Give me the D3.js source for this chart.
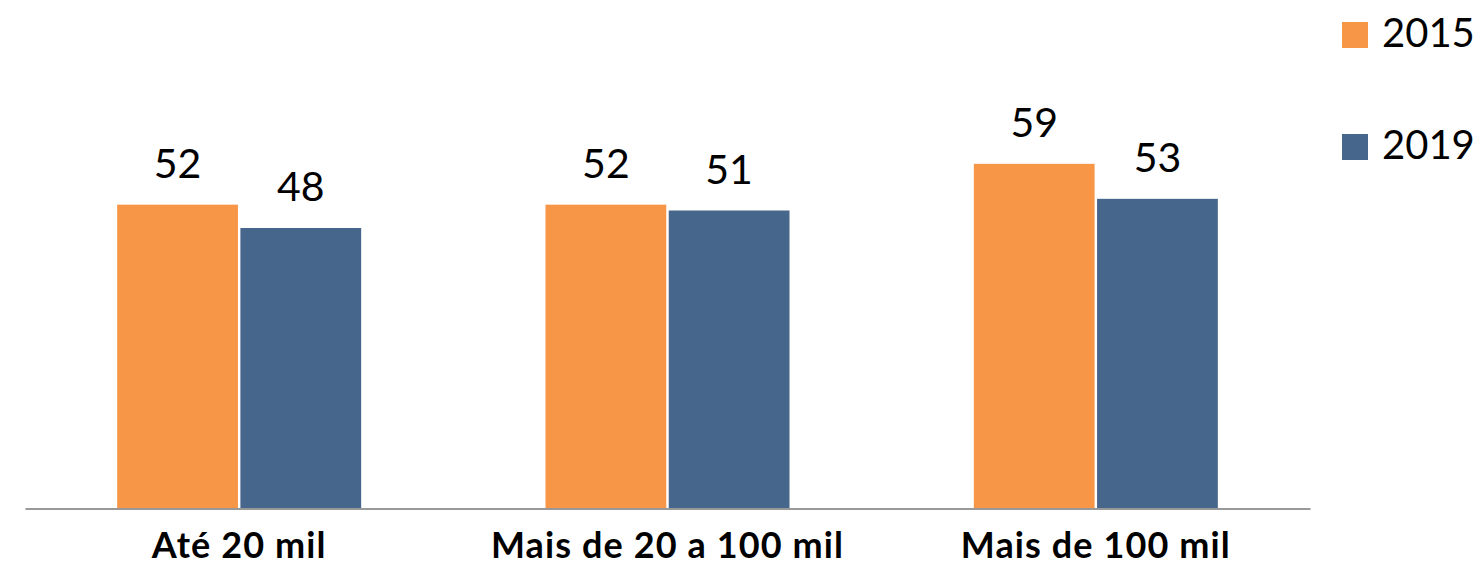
<!DOCTYPE html>
<html lang="pt">
<head>
  <meta charset="UTF-8">
  <title>2015 x 2019</title>
  <script src="https://d3js.org/d3.v7.min.js"></script>
  <style>
    body { margin: 0; background: #fff; }
    text { font-family: Lato, "Open Sans", sans-serif; fill: #000; }
    .val { font-size: 41px; text-anchor: middle; }
    .cat { font-size: 36px; font-weight: 700; text-anchor: middle; letter-spacing: 1.1px; }
    .leg { font-size: 40px; }
  </style>
</head>
<body>
<svg width="1483" height="566"></svg>
<script>
  const categories = ["Até 20 mil", "Mais de 20 a 100 mil", "Mais de 100 mil"];
  const series = ["2015", "2019"];
  const values2015 = [52, 52, 59];
  const values2019 = [48, 51, 53];
  const colors = ["#F79646", "#47668C"];

  const data = categories.map((c, i) => ({cat: c, vals: [values2015[i], values2019[i]]}));

  const svg = d3.select("svg");
  const baseY = 508;

  const x0 = d3.scaleBand().domain(categories).range([25, 1310]).padding(0);
  const bw = x0.bandwidth();
  const x1 = d3.scaleBand().domain(series)
          .range([bw / 2 - 122, bw / 2 + 122]).paddingInner(0.02);
  const y = d3.scaleLinear().domain([0, 60]).range([baseY, baseY - 350]);

  const groups = svg.selectAll(".grp")
          .data(data)
          .enter().append("g")
          .attr("class", "grp")
          .attr("transform", d => `translate(${x0(d.cat)},0)`);

  groups.selectAll("rect")
          .data(d => d.vals.map((v, i) => ({s: series[i], v: v, i: i})))
          .enter().append("rect")
          .attr("x", d => x1(d.s))
          .attr("y", d => y(d.v))
          .attr("width", x1.bandwidth())
          .attr("height", d => y(0) - y(d.v))
          .attr("fill", d => colors[d.i]);

  groups.selectAll(".val")
          .data(d => d.vals.map((v, i) => ({s: series[i], v: v})))
          .enter().append("text")
          .attr("class", "val")
          .attr("x", d => x1(d.s) + x1.bandwidth() / 2)
          .attr("y", d => y(d.v) - 27)
          .text(d => d.v);

  // axis line
  const xAxis = svg.append("g").attr("transform", `translate(0,${baseY + 0.5})`)
          .call(d3.axisBottom(x0).tickSize(0).tickFormat(""));
  xAxis.select(".domain").attr("stroke", "#999").attr("stroke-width", 2);

  svg.selectAll(".cat")
          .data(categories)
          .enter().append("text")
          .attr("class", "cat")
          .attr("x", d => x0(d) + bw / 2)
          .attr("y", 558)
          .text(d => d);

  // legend
  const leg = svg.selectAll(".legItem")
          .data(series)
          .enter().append("g")
          .attr("class", "legItem")
          .attr("transform", (d, i) => `translate(1342,${22 + i * 112})`);
  leg.append("rect").attr("width", 26).attr("height", 26).attr("fill", (d, i) => colors[i]);
  leg.append("text").attr("class", "leg").attr("x", 40).attr("y", 25).text(d => d);
</script>
</body>
</html>
